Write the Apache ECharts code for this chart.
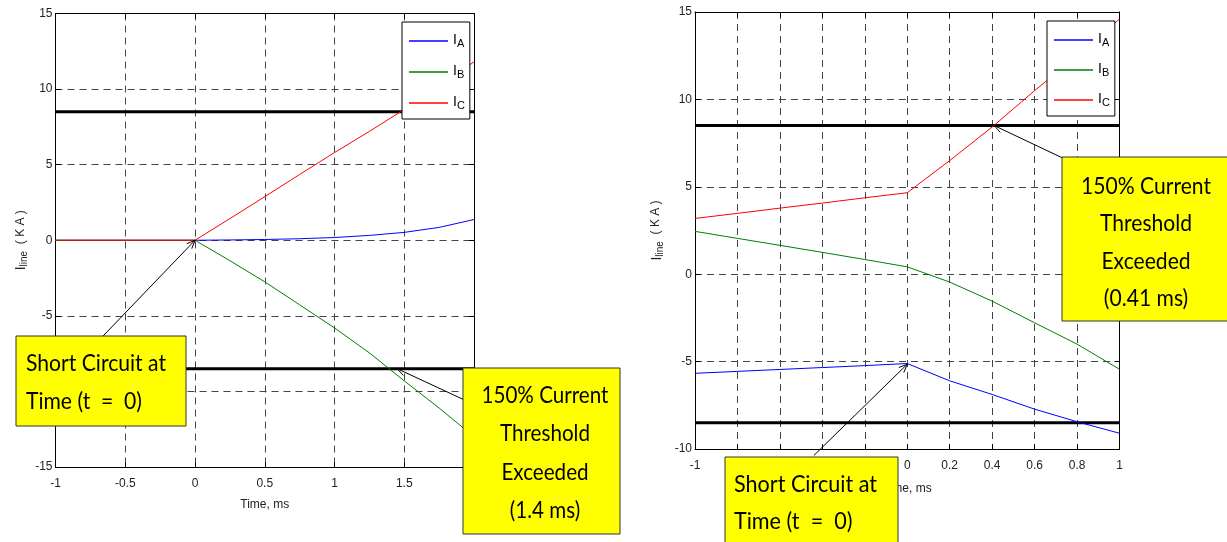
<!DOCTYPE html>
<html><head><meta charset="utf-8">
<script src="https://cdn.jsdelivr.net/npm/echarts@6/dist/echarts.min.js"></script>
<style>html,body{margin:0;padding:0;background:#fff}#c{width:1227px;height:542px}</style>
</head><body><div id="c"></div>
<script>
// ---- data: left panel (Time, ms -1 .. 2) ----
const tL  = [-1, 0, 0.25, 0.5, 0.75, 1, 1.25, 1.5, 1.75, 2];
const iaL = [0, 0, 0.02, 0.05, 0.1, 0.18, 0.32, 0.52, 0.85, 1.37];
const ibL = [0, 0, -1.35, -2.75, -4.27, -5.8, -7.45, -9.3, -11.1, -13.0];
const icL = [0, 0, 1.43, 2.88, 4.35, 5.8, 7.2, 8.65, 10.2, 11.8];
// ---- data: right panel (Time, ms -1 .. 1) ----
const tR  = [-1, -0.8, -0.6, -0.4, -0.2, 0, 0.2, 0.4, 0.6, 0.8, 1];
const iaR = [-5.67, -5.56, -5.45, -5.34, -5.23, -5.11, -6.1, -6.88, -7.72, -8.44, -9.1];
const ibR = [2.45, 2.05, 1.65, 1.25, 0.84, 0.42, -0.45, -1.54, -2.78, -4.0, -5.44];
const icR = [3.19, 3.48, 3.78, 4.07, 4.37, 4.66, 6.5, 8.42, 10.5, 12.5, 14.6];
const threshold = 8.5;           // 150% current threshold (kA)
const seriesNames = ['IA', 'IB', 'IC'];
const seriesColors = ['#0000ff', '#008000', '#ff0000'];
// annotation anchors (data coords): [tip, tail]
const arrowsL = [[[0, 0], [-0.67, -6.44]], [[1.45, -8.5], [1.93, -10.56]]];
const arrowsR = [[[0.41, 8.5], [0.73, 6.66]], [[0, -5.15], [-0.44, -10.37]]];

const FONT = "'Liberation Sans',Arial,sans-serif";
const BOXFONT = "Lato,'Liberation Sans',sans-serif";
const zip = (xs, ys) => xs.map((x, i) => [x, ys[i]]);

const chart = echarts.init(document.getElementById('c'), null, {renderer: 'canvas'});

const gridLine = {show: true, lineStyle: {color: '#444', type: [7, 5], width: 1}};
function mainX(gi, min, max, interval, gap) {
  return {gridIndex: gi, type: 'value', min, max, interval, position: 'bottom',
    name: 'Time, ms', nameLocation: 'middle', nameGap: gap,
    nameTextStyle: {fontFamily: FONT, fontSize: 12, color: '#222'},
    axisLine: {show: true, onZero: false, lineStyle: {color: '#000', width: 1}},
    axisTick: {show: true, inside: true, length: 5, lineStyle: {color: '#000'}},
    axisLabel: {fontFamily: FONT, fontSize: 12, color: '#222', margin: 11, showMinLabel: true, showMaxLabel: true, hideOverlap: false},
    splitLine: gridLine};
}
function topX(gi, min, max, interval) {
  return {gridIndex: gi, type: 'value', min, max, interval, position: 'top',
    axisLine: {show: true, onZero: false, lineStyle: {color: '#000', width: 1}},
    axisTick: {show: true, inside: true, length: 5, lineStyle: {color: '#000'}},
    axisLabel: {show: false}, splitLine: {show: false}};
}
function mainY(gi, min, max, interval, gap) {
  return {gridIndex: gi, type: 'value', min, max, interval, position: 'left',
    name: '{i|I}{s|line}{n|  ( K A )}', nameLocation: 'middle', nameGap: gap, nameRotate: 90,
    nameTextStyle: {fontFamily: FONT, color: '#222',
      rich: {i: {fontFamily: FONT, fontSize: 14, color: '#222', verticalAlign: 'top', lineHeight: 15},
             s: {fontFamily: FONT, fontSize: 10, color: '#222', verticalAlign: 'bottom', lineHeight: 12, padding: [6, 0, 0, 0]},
             n: {fontFamily: FONT, fontSize: 12, color: '#222', verticalAlign: 'top', lineHeight: 15}}},
    axisLine: {show: true, onZero: false, lineStyle: {color: '#000', width: 1}},
    axisTick: {show: true, inside: true, length: 5, lineStyle: {color: '#000'}},
    axisLabel: {fontFamily: FONT, fontSize: 12, color: '#222', margin: 3, showMinLabel: true, showMaxLabel: true, hideOverlap: false},
    splitLine: gridLine};
}
function rightY(gi, min, max, interval) {
  return {gridIndex: gi, type: 'value', min, max, interval, position: 'right',
    axisLine: {show: true, onZero: false, lineStyle: {color: '#000', width: 1}},
    axisTick: {show: true, inside: true, length: 5, lineStyle: {color: '#000'}},
    axisLabel: {show: false}, splitLine: {show: false}};
}
function curves(xi, yi, ts, arrs) {
  return arrs.map((vals, k) => ({
    name: seriesNames[k], type: 'line', xAxisIndex: xi, yAxisIndex: yi,
    data: zip(ts, vals), symbol: 'none', smooth: false, animation: false,
    lineStyle: {color: seriesColors[k], width: 1}, itemStyle: {color: seriesColors[k]}, z: 3
  }));
}
function thresholdLines(xi, yi, xmin, xmax) {
  return [threshold, -threshold].map(v => ({
    name: 'thr', type: 'line', xAxisIndex: xi, yAxisIndex: yi, symbol: 'none', animation: false,
    data: [[xmin, v], [xmax, v]], lineStyle: {color: '#000', width: 3}, z: 2, silent: true
  }));
}
function legendAt(left, top, gap) {
  return {show: true, data: seriesNames, orient: 'vertical', left, top,
    padding: [8, 5, 8, 7], itemGap: gap, itemWidth: 39, itemHeight: 1.5, icon: 'rect',
    backgroundColor: '#fff', borderColor: '#000', borderWidth: 1, borderRadius: 0,
    selectedMode: false,
    formatter: n => '{m|I}{s|' + n.slice(1) + '}',
    textStyle: {rich: {
      m: {fontFamily: FONT, fontSize: 14, color: '#000', verticalAlign: 'top', lineHeight: 16},
      s: {fontFamily: FONT, fontSize: 11, color: '#000', verticalAlign: 'bottom', lineHeight: 13, padding: [8, 0, 0, 0]}}}};
}

const option = {
  backgroundColor: '#fff',
  animation: false,
  grid: [
    {left: 55.5, top: 13.5, width: 418.5, height: 453.5, outerBoundsMode: 'none', containLabel: false},
    {left: 695, top: 12, width: 424.5, height: 437, outerBoundsMode: 'none', containLabel: false}
  ],
  xAxis: [mainX(0, -1, 2, 0.5, 32), topX(0, -1, 2, 0.5), mainX(1, -1, 1, 0.2, 34), topX(1, -1, 1, 0.2)],
  yAxis: [mainY(0, -15, 15, 5, 26), rightY(0, -15, 15, 5), mainY(1, -10, 15, 5, 30), rightY(1, -10, 15, 5)],
  legend: [legendAt(402, 22, 12), legendAt(1047, 21, 11)],
  series: [
    ...thresholdLines(0, 0, -1, 2),
    ...curves(0, 0, tL, [iaL, ibL, icL]),
    ...thresholdLines(2, 2, -1, 1),
    ...curves(2, 2, tR, [iaR, ibR, icR])
  ]
};
chart.setOption(option);

// ---- annotations ----
function arrowEls(seriesIndex, list) {
  const els = [];
  list.forEach(([tip, tail]) => {
    const p1 = chart.convertToPixel({seriesIndex}, tip);
    const p0 = chart.convertToPixel({seriesIndex}, tail);
    const ang = Math.atan2(p0[1] - p1[1], p0[0] - p1[0]);
    const L = 9, a = 0.4;
    const style = {stroke: '#000', lineWidth: 1};
    els.push({type: 'line', z: 50, shape: {x1: p0[0], y1: p0[1], x2: p1[0], y2: p1[1]}, style});
    els.push({type: 'polyline', z: 50, shape: {points: [
      [p1[0] + L * Math.cos(ang + a), p1[1] + L * Math.sin(ang + a)],
      [p1[0], p1[1]],
      [p1[0] + L * Math.cos(ang - a), p1[1] + L * Math.sin(ang - a)]]}, style});
  });
  return els;
}
const mctx = document.createElement('canvas').getContext('2d');
const BOXSIZE = 24;
function box(x, y, w, h, lines, align, tx, ty, lh, targetW) {
  const font = BOXSIZE + 'px ' + BOXFONT;
  mctx.font = font;
  const sx = targetW / mctx.measureText(lines[0]).width;
  const els = [{type: 'rect', z: 60, shape: {x, y, width: w, height: h},
    style: {fill: '#ffff00', stroke: '#333', lineWidth: 1}}];
  lines.forEach((s, i) => els.push({type: 'text', z: 61, x: tx, y: ty + i * lh, scaleX: sx,
    style: {text: s, font, fill: '#000', textAlign: align, textVerticalAlign: 'middle'}}));
  return els;
}
const graphic = [
  ...arrowEls(2, arrowsL),
  ...arrowEls(7, arrowsR),
  ...box(16, 336, 170, 90, ['Short Circuit at', 'Time (t  =  0)'], 'left', 26, 363, 38, 140),
  ...box(463, 368, 157, 166, ['150% Current', 'Threshold', 'Exceeded', '(1.4 ms)'], 'center', 545, 395, 38.5, 127),
  ...box(1062, 157, 170, 164, ['150% Current', 'Threshold', 'Exceeded', '(0.41 ms)'], 'center', 1146, 186, 37.5, 130),
  ...box(725, 457, 173, 100, ['Short Circuit at', 'Time (t  =  0)'], 'left', 734, 484, 37, 143)
];
chart.setOption({graphic});
</script>
</body></html>
